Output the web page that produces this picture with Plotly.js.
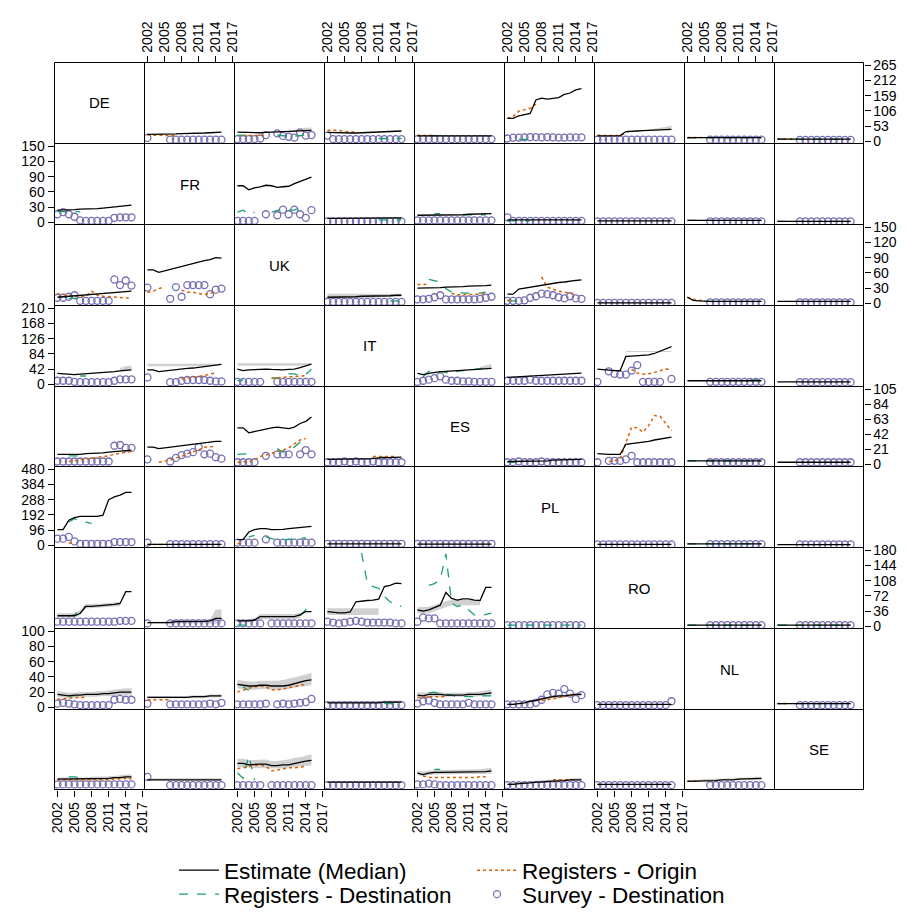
<!DOCTYPE html>
<html><head><meta charset="utf-8">
<script src="https://cdn.plot.ly/plotly-3.0.1.min.js"></script>
<style>html,body{margin:0;padding:0;background:#fff;}#chart{width:909px;height:916px;}</style>
</head><body><div id="chart"></div>
<script>
const _ = null;
const codes = ['DE','FR','UK','IT','ES','PL','RO','NL','SE'];
const years = [2002,2003,2004,2005,2006,2007,2008,2009,2010,2011,2012,2013,2014,2015];
const xTicks = [2002,2005,2008,2011,2014,2017];
const yTicks_DE = [0,53,106,159,212,265];
const yTicks_FR = [0,30,60,90,120,150];
const yTicks_UK = [0,30,60,90,120,150];
const yTicks_IT = [0,42,84,126,168,210];
const yTicks_ES = [0,21,42,63,84,105];
const yTicks_PL = [0,96,192,288,384,480];
const yTicks_RO = [0,36,72,108,144,180];
const yTicks_NL = [0,20,40,60,80,100];
const yTicks_SE = [0,2,4,6,8,10];
const legendNames = ['Estimate (Median)','Registers - Origin','Registers - Destination','Survey - Destination'];

// ---------- origin DE (columns: DE FR UK IT ES PL RO NL SE) ----------
const est_DE = [_,
 [24,24,25,25,26,26,27,27,28,28,29,30,31,32],
 [32,31,30,29,30,31,32,32,33,33,34,35,37,38],
 [31,30,30,29,29,29,30,30,31,32,33,34,35,36],
 [19,19,19,19,19,19,19,19,19,19,19,19,19,19],
 [80,80,89,94,97,144,150,147,150,152,163,168,179,183],
 [19,19,19,19,20,34,36,36,37,38,39,40,41,42],
 [13,13,13,13,13,13,13,13,13,13,13,13,13,13],
 [8,8,8,8,8,8,8,8,8,8,8,8,8,8]];
const regO_DE = [_,
 [22,22,21,21,20,20,_,_,_,_,_,_,_,_],
 [_,20,20,20,20,20,_,_,_,_,_,_,_,_],
 [39,39,38,35,33,31,_,_,_,_,_,_,_,_],
 [21,21,20,20,_,_,_,_,_,_,_,_,_,_],
 [80,86,105,109,115,129,_,_,_,_,_,_,_,_],
 [21,21,21,20,20,30,39,_,_,_,_,_,_,_],
 [13,13,13,13,_,_,_,_,_,_,_,_,_,_],
 [8,8,8,8,_,_,_,_,_,_,_,_,_,_]];
const regD_DE = [_,_,
 [22,21,20,_,_,_,_,21,19,18,18,19,22,_],
 [_,_,_,_,_,_,_,_,_,10,10,10,10,10],
 [_,_,21,21,20,_,_,_,_,_,_,_,_,_],
 [_,_,7,7,7,7,_,_,_,_,_,_,_,_],
 _,
 [12,12,12,12,12,12,12,12,12,12,12,12,12,12],
 [8,8,8,8,8,8,8,8,8,8,8,8,8,8]];
const surv_DE = [_,
 [12,_,_,_,6,6,6,6,6,6,6,6,6,6],
 [8,8,8,8,10,22,_,28,19,16,13,31,20,22],
 [20,8,8,8,8,8,8,8,8,8,8,8,8,8],
 [8,8,8,8,8,8,8,8,8,8,8,8,8,8],
 [10,13,13,14,15,15,14,15,14,13,13,14,14,14],
 [6,6,6,6,6,6,6,6,6,6,6,6,6,6],
 [_,_,_,_,6,6,6,6,6,6,6,6,6,6],
 [_,_,_,_,5,5,5,5,5,5,5,5,5,5]];
const bandLo_DE = [_,_,[_,_,_,_,_,_,_,_,_,33,33,34,36,37],_,_,_,[_,_,_,_,_,_,_,_,_,37,38,39,40,41],_,_];
const bandHi_DE = [_,_,[_,_,_,_,_,_,_,_,_,36,40,44,47,48],_,_,_,[_,_,_,_,_,_,_,_,_,40,44,48,51,53],_,_];

// ---------- origin FR ----------
const est_FR = [
 [24,24,25,25,26,26,27,27,28,29,30,31,32,34],_,
 [72,72,64,68,70,73,72,69,70,71,76,80,85,89],
 [8,8,8,8,8,8,8,8,8,8,8,9,9,9],
 [14,14,14,14,14,15,15,15,15,16,16,16,17,17],
 [5,5,5,5,5,5,5,5,5,5,5,5,5,5],
 [3,3,3,3,3,3,3,3,3,3,3,3,3,3],
 [4,4,4,4,4,4,4,4,4,4,4,4,4,4],
 [2,2,2,2,2,2,2,2,2,2,2,2,2,2]];
const regO_FR = [_,_,_,_,_,_,_,_,_];
const regD_FR = [
 [21,21,21,21,21,_,_,_,_,_,_,_,_,_],_,
 [20,24,16,20,_,_,20,24,27,24,24,30,34,_],
 [_,_,_,_,_,_,_,_,_,5,5,5,5,5],
 [_,_,_,17,17,_,_,_,15,15,15,15,15,_],
 [3,3,3,3,3,_,_,_,_,_,_,_,_,_],_,
 [4,4,4,4,4,4,4,4,4,4,4,4,4,4],
 [2,2,2,2,2,2,2,2,2,2,2,2,2,2]];
const surv_FR = [
 [16,20,16,11,4,3,3,3,3,3,9,10,10,10],_,
 [3,3,3,3,_,16,_,14,25,16,25,16,9,24],
 [2,2,2,2,2,2,2,2,2,2,2,2,2,2],
 [4,4,4,4,4,4,4,4,4,4,4,4,4,4],
 [10,3,3,3,3,3,3,3,3,3,3,3,3,3],
 [2,2,2,2,2,2,2,2,2,2,2,2,2,2],
 [_,_,_,_,2,2,2,2,2,2,2,2,2,2],
 [_,_,_,_,2,2,2,2,2,2,2,2,2,2]];
const bandLo_FR = [_,_,_,_,_,_,_,_,_];
const bandHi_FR = [_,_,_,_,_,_,_,_,_];

// ---------- origin UK ----------
const est_UK = [
 [12,13,13,14,15,16,17,18,19,20,21,22,23,24],
 [66,66,61,64,67,70,72,75,78,82,84,86,90,89],_,
 [12,12,12,13,13,13,14,14,14,15,15,15,16,16],
 [30,30,31,31,31,32,32,33,33,34,34,35,35,36],
 [18,18,28,30,32,34,36,38,40,41,42,44,45,46],
 [1,1,1,1,1,1,1,1,1,1,1,1,1,1],
 [12,6,5,4,4,4,4,4,4,4,4,4,4,4],
 [4,4,4,4,4,4,4,4,4,4,4,4,4,4]];
const regO_UK = [
 [19,17,15,14,14,14,24,16,14,13,12,12,11,10],
 [22,24,29,32,_,_,26,22,22,19,17,20,22,_],_,_,
 [37,37,37,_,_,_,20,17,17,17,18,18,19,_],
 [6,6,_,_,_,_,52,32,28,24,22,19,18,_],_,
 [12,8,6,5,_,_,_,_,_,_,_,_,_,_],_];
const regD_UK = [
 [_,_,10,10,10,_,_,_,_,_,_,_,_,_],_,_,
 [_,_,_,_,_,_,_,_,_,_,_,5,5,5],
 [_,_,47,45,42,29,22,21,20,20,20,20,22,_],
 [5,5,5,5,_,_,_,_,_,_,_,_,_,_],_,
 [_,_,_,4,4,4,4,4,4,4,4,4,4,4],_];
const surv_UK = [
 [11,11,13,16,5,5,5,5,5,5,47,36,45,35],
 [31,_,_,_,9,32,13,36,36,36,36,18,27,29],_,
 [3,3,3,3,3,3,3,3,3,3,3,3,3,3],
 [8,8,9,12,16,8,8,8,8,8,8,9,11,13],
 [5,5,5,6,11,14,19,18,16,12,10,14,10,9],
 [1,1,1,1,1,1,1,1,1,1,1,1,1,1],
 [_,_,_,_,2,2,2,2,2,2,2,2,2,2],
 [_,_,_,_,2,2,2,2,2,2,2,2,2,2]];
const bandLo_UK = [_,_,_,[9,9,9,10,10,10,11,11,11,12,12,12,13,13],_,_,_,_,_];
const bandHi_UK = [_,_,_,[19,19,19,19,19,19,19,19,19,19,19,19,19,19],_,_,_,_,_];

// ---------- origin IT ----------
const est_IT = [
 [30,29,27,27,28,29,29,30,31,32,35,37,39,40],
 [40,40,35,37,39,42,43,44,45,47,49,51,53,55],
 [42,38,40,41,42,42,41,40,40,41,42,46,52,56],_,
 [30,27,30,33,35,36,37,38,39,40,41,42,43,44],
 [19,20,22,23,24,25,26,27,27,28,29,30,30,31],
 [42,40,38,38,38,77,78,79,80,81,85,92,98,104],
 [10,10,10,10,10,10,10,10,10,10,10,10,10,10],
 [7,7,7,7,7,7,7,7,7,7,7,7,7,7]];
const regO_IT = [_,
 [_,_,_,_,_,_,15,17,19,21,24,29,31,_],
 [_,_,_,_,_,_,17,18,19,20,21,22,24,_],_,_,_,
 [_,_,_,_,_,_,42,31,28,29,33,38,42,41],_,_];
const regD_IT = [
 [_,_,_,_,23,23,_,_,_,_,_,_,_,_],_,
 [10,12,_,_,_,_,17,19,19,29,29,24,27,42],_,
 [_,21,36,38,35,33,30,36,38,40,41,43,45,_],_,_,
 [_,_,_,_,_,_,_,_,_,_,_,12,12,12],_];
const surv_IT = [
 [10,10,10,7,6,6,6,6,6,6,10,14,14,14],
 [19,_,_,_,6,6,10,12,12,12,12,10,8,8],
 [7,7,7,7,7,_,_,7,7,7,7,7,7,7],_,
 [7,10,13,17,22,13,10,10,8,8,7,7,7,7],
 [10,10,10,10,13,10,10,10,10,10,10,10,10,10],
 [7,_,36,29,27,27,38,53,7,7,7,7,_,15],
 [_,_,_,_,7,7,7,7,7,7,7,7,7,7],
 [_,_,_,_,6,6,6,6,6,6,6,6,6,6]];
const bandLo_IT = [
 [_,_,_,_,_,_,_,_,_,_,_,37,39,40],
 [50,50,50,50,50,50,50,50,50,50,50,51,53,55],
 [51,51,51,51,51,51,51,51,51,51,51,51,52,55],_,
 [_,_,_,_,_,_,_,_,_,_,_,42,43,44],_,
 [_,_,_,_,_,89,89,89,89,89,89,89,89,89],_,_];
const bandHi_IT = [
 [_,_,_,_,_,_,_,_,_,_,_,45,50,52],
 [57,57,57,57,57,57,57,57,57,57,57,57,57,57],
 [58,58,58,58,58,58,58,58,58,58,58,58,58,58],_,
 [_,_,_,_,_,_,_,_,_,_,_,48,53,56],_,
 [_,_,_,_,_,92,92,92,92,92,92,92,92,92],_,_];

// ---------- origin ES ----------
const est_ES = [
 [14,14,13,14,14,15,15,16,16,17,18,18,19,20],
 [24,24,22,23,24,26,26,27,28,29,30,31,32,32],
 [51,51,44,46,47,49,51,52,51,50,52,57,60,66],
 [7,7,7,7,8,8,8,8,8,9,9,9,10,10],_,
 [4,4,4,4,5,5,5,5,6,6,6,6,7,7],
 [15,14,14,14,14,28,29,29,30,32,34,35,36,38],
 [5,5,5,5,5,5,5,5,5,5,5,5,5,5],
 [3,3,3,3,3,3,3,3,3,3,3,3,3,3]];
const regO_ES = [
 [_,_,4,5,6,7,8,9,11,12,14,16,17,18],
 [_,_,3,4,6,9,11,15,17,20,24,25,25,_],
 [3,3,4,6,11,13,15,17,20,23,28,34,36,_],
 [_,_,_,_,_,_,_,_,11,11,11,11,11,_],_,_,
 [_,_,4,5,8,29,52,51,45,54,68,67,57,47],_,_];
const regD_ES = [
 [_,_,12,12,12,12,_,_,_,_,_,_,_,_],_,
 [14,15,15,_,_,_,_,22,17,21,24,31,34,_],
 [_,_,_,_,_,_,_,_,_,10,10,10,10,_],_,
 [3,3,3,3,_,_,_,_,_,_,_,_,_,_],_,
 [5,5,5,5,5,5,5,5,5,5,5,5,5,5],_];
const surv_ES = [
 [4,4,4,4,4,4,4,4,4,4,26,27,23,23],
 [7,_,_,_,4,9,13,15,17,24,14,15,10,8],
 [3,3,3,3,_,12,_,14,14,14,_,14,20,14],
 [3,3,3,4,3,4,3,3,4,3,3,3,3,3],_,
 [3,3,4,3,3,3,4,3,3,3,3,3,3,3],
 [3,_,5,5,5,7,12,3,3,3,3,3,3,3],
 [_,_,_,_,3,3,3,3,3,3,3,3,3,3],
 [_,_,_,_,3,3,3,3,3,3,3,3,3,3]];
const bandLo_ES = [_,_,_,_,_,_,_,_,_];
const bandHi_ES = [_,_,_,_,_,_,_,_,_];

// ---------- origin PL ----------
const est_PL = [
 [99,99,158,175,183,183,183,183,190,288,305,316,333,333],
 [6,6,6,6,6,6,6,6,6,6,6,6,6,6],
 [36,36,84,99,105,105,99,99,101,105,109,116,120,120],
 [10,10,10,10,10,10,10,10,10,10,10,10,10,10],
 [8,8,8,8,8,8,8,8,8,8,8,8,8,8],_,
 [6,6,6,6,6,6,6,6,6,6,6,6,6,6],
 [10,10,10,10,10,10,10,10,10,10,10,10,10,10],
 [5,5,5,5,5,5,5,5,5,5,5,5,5,5]];
const regO_PL = [
 [_,_,15,12,_,_,_,_,_,_,_,_,_,_],
 [6,6,6,6,_,_,_,_,_,_,_,_,_,_],
 [10,12,_,_,_,_,_,_,_,_,_,_,_,_],_,_,_,_,_,_];
const regD_PL = [
 [_,_,147,168,158,147,137,_,_,_,_,_,_,_],_,
 [_,_,53,63,_,53,42,36,36,36,42,42,48,_],_,_,_,_,
 [10,10,10,10,10,10,10,10,10,10,10,10,10,10],_];
const surv_PL = [
 [42,42,53,25,10,10,10,10,10,10,21,21,21,21],
 [17,_,_,_,8,8,8,8,8,8,8,8,8,8],
 [17,17,17,17,_,38,_,17,17,17,17,17,17,17],
 [10,10,10,10,10,10,10,10,10,10,10,10,10,10],
 [10,10,10,10,10,10,10,10,10,10,10,10,10,10],_,
 [6,6,6,6,6,6,6,6,6,6,6,6,6,6],
 [_,_,_,_,8,8,8,8,8,8,8,8,8,8],
 [_,_,_,_,6,6,6,6,6,6,6,6,6,6]];
const bandLo_PL = [_,_,_,_,_,_,_,_,_];
const bandHi_PL = [_,_,_,_,_,_,_,_,_];

// ---------- origin RO ----------
const est_RO = [
 [25,25,25,25,31,47,47,48,49,50,52,54,82,82],
 [9,9,9,9,9,11,11,11,12,12,12,13,19,19],
 [13,13,13,15,23,23,23,23,23,23,23,27,35,35],
 [35,33,32,32,34,58,60,61,62,64,94,97,102,101],
 [39,36,39,45,50,80,66,62,65,65,62,61,92,92],_,
 [3,3,3,3,3,3,3,3,3,3,3,3,3,3],
 [3,3,3,3,3,3,3,3,3,3,3,3,3,3],
 [3,3,3,3,3,3,3,3,3,3,3,3,3,3]];
const regO_RO = [_,_,_,_,_,_,_,_,_];
const regD_RO = [
 [_,_,25,27,42,47,_,_,_,_,_,_,_,_],_,
 [3,3,3,_,_,_,_,_,_,_,_,25,38,53],
 [_,_,_,_,_,_,173,102,94,90,70,58,50,47],
 [_,_,97,101,110,171,55,47,50,39,27,25,28,31],
 [3,3,3,3,3,3,3,3,3,3,3,3,3,3],_,
 [3,3,3,3,3,3,3,3,3,3,3,3,3,3],
 [3,3,3,3,3,3,3,3,3,3,3,3,3,3]];
const surv_RO = [
 [11,11,11,11,11,11,11,11,11,11,11,13,13,13],
 [7,_,_,_,7,7,7,7,7,7,7,7,7,7],
 [7,7,7,7,7,_,7,7,7,7,7,7,7,7],
 [11,9,7,9,11,13,11,9,9,9,9,9,7,7],
 [11,21,19,19,7,7,7,7,7,7,7,7,7,7],
 [3,3,3,3,3,3,3,3,3,3,3,3,3,3],_,
 [_,_,_,_,3,3,3,3,3,3,3,3,3,3],
 [_,_,_,_,3,3,3,3,3,3,3,3,3,3]];
const bandLo_RO = [
 [21,21,21,21,26,42,42,43,44,45,47,48,_,_],
 [7,7,7,7,7,7,7,7,7,7,7,7,7,7],
 [9,9,9,10,17,17,17,17,17,17,17,19,_,_],
 [27,27,27,27,27,27,27,27,27,27,_,_,_,_],
 [31,30,31,35,40,45,50,50,50,50,50,50,_,_],_,_,_,_];
const bandHi_RO = [
 [31,31,31,31,38,53,53,53,54,55,57,58,_,_],
 [11,11,11,11,13,17,17,17,17,17,17,17,40,40],
 [17,17,17,19,29,29,29,29,29,29,29,33,_,_],
 [43,43,43,43,43,43,43,43,43,43,_,_,_,_],
 [45,45,46,50,55,60,62,62,62,62,62,62,_,_],_,_,_,_];

// ---------- origin NL ----------
const est_NL = [
 [17,16,15,16,16,17,17,17,18,18,19,20,20,20],
 [13,13,13,13,13,13,13,13,14,14,14,15,15,15],
 [30,29,28,28,29,29,28,28,28,29,31,33,35,36],
 [6,6,6,6,6,6,6,6,6,6,7,7,7,7],
 [16,15,17,17,17,16,16,16,16,17,17,17,18,19],
 [4,4,5,6,8,9,11,13,14,15,15,16,17,17],
 [4,4,4,4,4,4,4,4,4,4,4,4,4,4],_,
 [5,5,5,5,5,5,5,5,5,5,5,5,5,5]];
const regO_NL = [
 [11,11,12,13,13,13,_,_,_,_,_,_,_,_],
 [10,10,10,10,10,_,_,_,_,_,_,_,_,_],
 [20,23,25,27,28,27,23,23,24,26,27,29,30,_],_,
 [13,13,14,14,14,14,_,_,_,_,_,_,_,_],
 [_,_,_,_,_,_,9,10,11,13,14,16,16,_],_,_,
 [5,5,5,_,_,_,_,_,_,_,_,_,_,_]];
const regD_NL = [
 [_,_,15,15,_,_,_,_,_,_,_,_,_,_],_,
 [_,27,22,_,_,_,_,_,_,_,_,_,_,_],
 [_,_,_,_,_,_,_,_,_,_,5,5,5,5],
 [_,_,19,20,18,17,16,14,14,14,14,15,15,15],_,_,_,
 [5,5,5,5,5,5,5,5,5,5,5,5,5,5]];
const surv_NL = [
 [5,6,5,4,3,3,3,3,3,3,10,11,10,10],
 [5,_,_,_,4,4,4,4,4,4,4,5,4,6],
 [4,4,4,4,4,5,_,4,5,4,5,6,7,11],
 [3,3,3,3,3,3,3,3,3,3,3,3,3,3],
 [5,8,9,6,4,4,4,4,4,6,4,4,4,4],
 [4,4,4,4,4,6,10,17,19,18,24,18,11,16],
 [3,3,3,3,3,3,3,3,3,3,3,3,3,8],_,
 [_,_,_,_,3,3,3,3,3,3,3,3,3,3]];
const bandLo_NL = [
 [14,13,12,13,13,14,14,14,15,15,15,16,16,16],
 [12,12,12,12,12,12,12,12,12,12,12,13,13,13],
 [25,24,23,23,24,24,23,23,23,24,26,27,28,29],
 [5,5,5,5,5,5,5,5,5,5,6,6,6,6],
 [13,13,14,14,14,14,14,14,14,14,14,15,15,16],
 [3,3,4,5,6,8,9,11,12,13,13,14,15,15],_,_,_];
const bandHi_NL = [
 [21,20,19,19,20,20,20,21,21,22,23,24,25,25],
 [15,15,15,15,15,15,15,15,16,16,16,17,17,17],
 [36,35,34,34,35,35,35,35,36,37,39,41,43,45],
 [8,8,8,8,8,8,8,8,8,8,9,9,9,9],
 [20,19,20,20,20,19,19,19,19,20,20,21,22,23],
 [5,5,6,7,9,11,13,15,16,17,17,18,19,19],_,_,_];

// ---------- origin SE ----------
const est_SE = [
 [1.1,1.1,1.1,1.1,1.1,1.1,1.2,1.2,1.2,1.2,1.3,1.3,1.4,1.4],
 [1.0,1.0,1.0,1.0,1.0,1.0,1.0,1.0,1.0,1.0,1.0,1.0,1.0,1.0],
 [3.2,3.2,3.0,3.1,3.1,3.1,2.9,2.9,3.0,3.0,3.2,3.3,3.5,3.6],
 [0.7,0.7,0.7,0.7,0.7,0.7,0.7,0.7,0.7,0.7,0.7,0.7,0.7,0.7],
 [1.9,1.7,1.9,2.0,2.0,2.0,2.0,2.0,2.0,2.0,2.0,2.1,2.1,2.2],
 [0.4,0.4,0.5,0.5,0.6,0.7,0.7,0.8,0.8,0.9,0.9,1.0,1.0,1.0],
 [0.4,0.4,0.4,0.4,0.4,0.4,0.4,0.4,0.4,0.4,0.4,0.4,0.4,0.4],
 [0.8,0.8,0.8,0.9,0.9,0.9,1.0,1.0,1.0,1.1,1.1,1.1,1.2,1.2],_];
const regO_SE = [
 [1.0,1.0,0.9,0.9,0.9,0.9,1.0,1.0,1.0,1.0,1.1,1.2,1.2,1.1],_,
 [2.5,2.6,2.8,2.9,3.0,2.8,2.2,2.3,2.5,2.6,2.6,2.7,2.8,_],_,
 [_,1.5,1.3,1.3,1.3,1.3,1.2,1.2,1.3,1.3,1.3,1.4,1.4,_],
 [_,_,_,_,_,_,_,_,1.0,1.0,1.0,1.0,1.0,_],
 [0.4,0.4,_,_,_,_,_,_,_,_,_,_,_,_],
 [0.8,0.8,0.8,_,_,_,_,_,_,_,_,_,_,_],_];
const regD_SE = [
 [_,_,1.4,1.4,1.3,_,_,_,_,_,_,_,_,_],_,
 [1.9,1.2,4.2,1.0,_,_,_,_,_,_,_,_,_,_],_,
 [_,_,_,2.4,2.4,_,_,_,_,_,_,_,_,_],_,_,_,_];
const surv_SE = [
 [0.4,0.4,0.4,0.4,0.4,0.4,0.4,0.4,0.4,0.4,0.4,0.4,0.4,0.4],
 [1.4,_,_,_,0.3,0.3,0.3,0.3,0.3,0.3,0.3,0.3,0.3,0.3],
 [0.3,0.3,0.3,0.3,0.3,_,0.3,0.3,0.3,0.3,0.3,0.3,0.3,0.3],
 [0.3,0.3,0.3,0.3,0.3,0.3,0.3,0.3,0.3,0.3,0.3,0.3,0.3,0.3],
 [0.4,0.4,0.5,0.4,0.3,0.3,0.3,0.3,0.3,0.3,0.3,0.3,0.3,0.3],
 [0.3,0.3,0.3,0.3,0.3,0.3,0.3,0.3,0.3,0.3,0.3,0.3,0.3,0.3],
 [0.3,0.3,0.3,0.3,0.3,0.3,0.3,0.3,0.3,0.3,0.3,0.3,0.3,0.3],
 [_,_,_,_,0.3,0.3,0.3,0.3,0.3,0.3,0.3,0.3,0.3,0.3],_];
const bandLo_SE = [
 [0.9,0.9,0.9,0.9,0.9,0.9,1.0,1.0,1.0,1.0,1.1,1.1,1.1,1.1],
 [0.9,0.9,0.9,0.9,0.9,0.9,0.9,0.9,0.9,0.9,0.9,0.9,0.9,0.9],
 [2.7,2.7,2.6,2.6,2.6,2.6,2.5,2.5,2.5,2.6,2.7,2.8,2.9,2.9],_,
 [1.6,1.5,1.6,1.7,1.7,1.7,1.7,1.7,1.7,1.7,1.7,1.8,1.8,1.8],
 [0.3,0.3,0.4,0.4,0.5,0.5,0.6,0.6,0.7,0.7,0.8,0.8,0.8,0.8],_,
 [0.7,0.7,0.7,0.8,0.8,0.8,0.9,0.9,0.9,0.9,0.9,1.0,1.0,1.0],_];
const bandHi_SE = [
 [1.3,1.3,1.3,1.3,1.3,1.3,1.4,1.4,1.4,1.5,1.5,1.6,1.7,1.7],
 [1.2,1.2,1.2,1.2,1.2,1.2,1.2,1.2,1.2,1.2,1.2,1.2,1.2,1.2],
 [3.8,3.8,3.6,3.6,3.6,3.7,3.5,3.5,3.6,3.7,3.9,4.0,4.2,4.4],_,
 [2.2,2.1,2.2,2.3,2.3,2.3,2.3,2.3,2.3,2.3,2.4,2.4,2.5,2.6],
 [0.6,0.6,0.7,0.7,0.8,0.9,0.9,1.0,1.0,1.1,1.1,1.2,1.2,1.3],_,
 [1.0,1.0,1.0,1.1,1.1,1.1,1.2,1.2,1.2,1.3,1.3,1.3,1.4,1.4],_];

// ---------- assemble ----------
const rows = [
 {est:est_DE,o:regO_DE,d:regD_DE,s:surv_DE,lo:bandLo_DE,hi:bandHi_DE,t:yTicks_DE},
 {est:est_FR,o:regO_FR,d:regD_FR,s:surv_FR,lo:bandLo_FR,hi:bandHi_FR,t:yTicks_FR},
 {est:est_UK,o:regO_UK,d:regD_UK,s:surv_UK,lo:bandLo_UK,hi:bandHi_UK,t:yTicks_UK},
 {est:est_IT,o:regO_IT,d:regD_IT,s:surv_IT,lo:bandLo_IT,hi:bandHi_IT,t:yTicks_IT},
 {est:est_ES,o:regO_ES,d:regD_ES,s:surv_ES,lo:bandLo_ES,hi:bandHi_ES,t:yTicks_ES},
 {est:est_PL,o:regO_PL,d:regD_PL,s:surv_PL,lo:bandLo_PL,hi:bandHi_PL,t:yTicks_PL},
 {est:est_RO,o:regO_RO,d:regD_RO,s:surv_RO,lo:bandLo_RO,hi:bandHi_RO,t:yTicks_RO},
 {est:est_NL,o:regO_NL,d:regD_NL,s:surv_NL,lo:bandLo_NL,hi:bandHi_NL,t:yTicks_NL},
 {est:est_SE,o:regO_SE,d:regD_SE,s:surv_SE,lo:bandLo_SE,hi:bandHi_SE,t:yTicks_SE}];

const W = 909, H = 916;
// panel boundaries in pixels (crisp half-pixel positions)
const xb = [], yb = [];
for (let n = 0; n <= 9; n++) {
  xb.push(Math.round(54.3 + n * 89.9) + 0.5);
  yb.push(Math.round(62.3 + n * 80.8) + 0.5);
}
const FONT = 'Liberation Sans, Arial, Helvetica, sans-serif';
const C_EST = '#000000', C_O = '#D95F02', C_D = '#1B9E77', C_S = '#7570B3';

const traces = [];
const legBase = {xanchor: 'left', orientation: 'h',
  entrywidth: 243, entrywidthmode: 'pixels', font: {family: FONT, size: 22.5, color: '#000'},
  bgcolor: 'rgba(0,0,0,0)', borderwidth: 0, itemwidth: 40, traceorder: 'normal', tracegroupgap: 0};
const layout = {
  width: W, height: H, autosize: false,
  margin: {l:0, r:0, t:0, b:0, pad:0},
  paper_bgcolor: '#fff', plot_bgcolor: 'rgba(0,0,0,0)',
  font: {family: FONT, color: '#000', size: 14},
  showlegend: true,
  legend: Object.assign({x: 174/W, y: 1 - 849/H, yanchor: 'top'}, legBase),
  legend2: Object.assign({x: 174/W, y: 0, yanchor: 'bottom'}, legBase),
  annotations: [], shapes: []
};

const shown = {};
function leg(key, legendId) {
  const first = !shown[key]; shown[key] = true;
  return {showlegend: first, legendgroup: key, legend: legendId};
}

for (let i = 0; i < 9; i++) {
  const R = rows[i];
  const M = R.t[R.t.length - 1];
  for (let j = 0; j < 9; j++) {
    const k = i * 9 + j + 1;
    const sx = k === 1 ? '' : String(k);
    const xId = 'x' + sx, yId = 'y' + sx;
    const showBottom = (i === 8 && j % 2 === 0);
    const showTop = (i === 0 && j % 2 === 1);
    const showX = showBottom || showTop;
    const showRight = (i % 2 === 0 && j === 8);
    const showLeft = (i % 2 === 1 && j === 0);
    const showY = showRight || showLeft;
    layout['xaxis' + sx] = {
      domain: [xb[j] / W, xb[j + 1] / W],
      range: [2001.49, 2017.29], anchor: yId, fixedrange: true,
      showline: false, showgrid: false, zeroline: false,
      tickmode: 'array', tickvals: xTicks, ticktext: xTicks.map(String),
      ticks: showX ? 'outside' : '', ticklen: 6, tickwidth: 1, tickcolor: '#000',
      showticklabels: showX, tickangle: -90, side: showTop ? 'top' : 'bottom',
      tickfont: {family: FONT, size: 14, color: '#000'}, automargin: false
    };
    layout['yaxis' + sx] = {
      domain: [1 - yb[i + 1] / H, 1 - yb[i] / H],
      range: [-0.028 * M, 1.034 * M], anchor: xId, fixedrange: true,
      showline: false, showgrid: false, zeroline: false,
      tickmode: 'array', tickvals: R.t, ticktext: R.t.map(String),
      ticks: showY ? 'outside' : '', ticklen: 6, tickwidth: 1, tickcolor: '#000',
      showticklabels: showY, side: showRight ? 'right' : 'left',
      tickfont: {family: FONT, size: 14, color: '#000'}, automargin: false
    };
    // panel frame
    layout.shapes.push({type: 'rect', xref: 'paper', yref: 'paper', layer: 'above',
      x0: xb[j] / W, x1: xb[j + 1] / W, y0: 1 - yb[i + 1] / H, y1: 1 - yb[i] / H,
      line: {color: '#000', width: 1}, fillcolor: 'rgba(0,0,0,0)'});
    if (i === j) {
      layout.annotations.push({xref: 'paper', yref: 'paper',
        x: (xb[j] + xb[j + 1]) / 2 / W, y: 1 - (yb[i] + yb[i + 1]) / 2 / H,
        text: codes[i], showarrow: false, xanchor: 'center', yanchor: 'middle',
        font: {family: FONT, size: 15, color: '#000'}});
      continue;
    }
    const lo = R.lo[j], hi = R.hi[j];
    if (lo && hi) {
      const idx = years.map((y, t) => t).filter(t => lo[t] != null && hi[t] != null);
      const rev = idx.slice().reverse();
      traces.push({type: 'scatter', mode: 'lines', xaxis: xId, yaxis: yId,
        x: idx.map(t => years[t]).concat(rev.map(t => years[t])),
        y: idx.map(t => hi[t]).concat(rev.map(t => lo[t])),
        fill: 'toself', fillcolor: 'rgba(150,150,150,0.45)', line: {width: 0},
        hoverinfo: 'skip', showlegend: false});
    }
    if (R.s[j]) traces.push(Object.assign({type: 'scatter', mode: 'markers', name: legendNames[3],
      xaxis: xId, yaxis: yId, x: years, y: R.s[j], legendrank: 4,
      marker: {symbol: 'circle-open', size: 7, color: C_S, line: {width: 1.3, color: C_S}}},
      leg('s', 'legend2')));
    if (R.d[j]) traces.push(Object.assign({type: 'scatter', mode: 'lines', name: legendNames[2],
      xaxis: xId, yaxis: yId, x: years, y: R.d[j], connectgaps: false, legendrank: 3,
      line: {color: C_D, width: 1.3, dash: 'dash'}}, leg('d', 'legend2')));
    if (R.o[j]) traces.push(Object.assign({type: 'scatter', mode: 'lines', name: legendNames[1],
      xaxis: xId, yaxis: yId, x: years, y: R.o[j], connectgaps: false, legendrank: 2,
      line: {color: C_O, width: 1.5, dash: 'dot'}}, leg('o', 'legend')));
    if (R.est[j]) traces.push(Object.assign({type: 'scatter', mode: 'lines', name: legendNames[0],
      xaxis: xId, yaxis: yId, x: years, y: R.est[j], connectgaps: false, legendrank: 1,
      line: {color: C_EST, width: 1.3}}, leg('e', 'legend')));
  }
}

Plotly.newPlot('chart', traces, layout, {staticPlot: true, displayModeBar: false});
</script>
</body></html>
